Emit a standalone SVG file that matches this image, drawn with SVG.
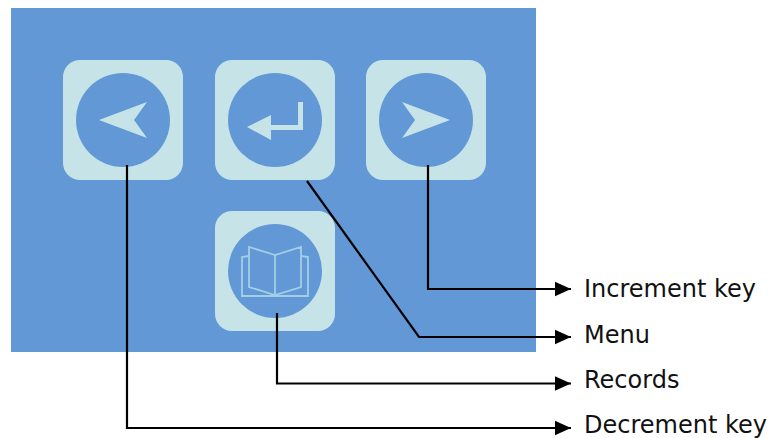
<svg xmlns="http://www.w3.org/2000/svg" width="768" height="438" viewBox="0 0 768 438">
<style>
.key{fill:#c6e4e8}
.disc{fill:#6298d5}
.glyph{fill:#c6e4e8}
.book{fill:none;stroke:#a3cfe6;stroke-width:1.8}
.wire{fill:none;stroke:#000;stroke-width:2.2;marker-end:url(#arrow)}
.lbl{font-family:"DejaVu Sans",Verdana,sans-serif;font-size:24px;fill:#111}
</style>
<defs>
<marker id="arrow" markerUnits="userSpaceOnUse" markerWidth="20" markerHeight="16" refX="16" refY="8" orient="auto"><path d="M0 0.7L16 8L0 15.3Z" fill="#000"/></marker>
</defs>
<rect x="11" y="8" width="525" height="344" fill="#6298d5"/>
<g id="key-decrement">
<rect class="key" x="63" y="60" width="120" height="120" rx="17"/>
<circle class="disc" cx="123" cy="120" r="47"/>
<path class="glyph" d="M99 120L147 102L134 120L147 138Z"/>
</g>
<g id="key-menu">
<rect class="key" x="215" y="60" width="120" height="120" rx="17"/>
<circle class="disc" cx="275" cy="120" r="47"/>
<path class="glyph" d="M247 127L271 115V125H298V102H303V130H271V140Z"/>
</g>
<g id="key-increment">
<rect class="key" x="366" y="60" width="120" height="120" rx="17"/>
<circle class="disc" cx="426" cy="120" r="47"/>
<path class="glyph" d="M450 120L402 102L415 120L402 138Z"/>
</g>
<g id="key-records">
<rect class="key" x="215" y="211" width="120" height="120" rx="17"/>
<circle class="disc" cx="275" cy="271" r="47"/>
<path class="book" d="M275 255L249 247V287L275 295L301 287V247ZM275 255V295M249 256L242 257V296H308V257L301 256"/>
</g>
<g id="connectors">
<path class="wire" d="M127 165V428H571"/>
<path class="wire" d="M307 181L419 337H571"/>
<path class="wire" d="M277 313V383.5H571"/>
<path class="wire" d="M428 165V289H571"/>
</g>
<g id="labels">
<text class="lbl" x="584" y="297">Increment key</text>
<text class="lbl" x="584" y="343">Menu</text>
<text class="lbl" x="584" y="388">Records</text>
<text class="lbl" x="584" y="433">Decrement key</text>
</g>
</svg>
